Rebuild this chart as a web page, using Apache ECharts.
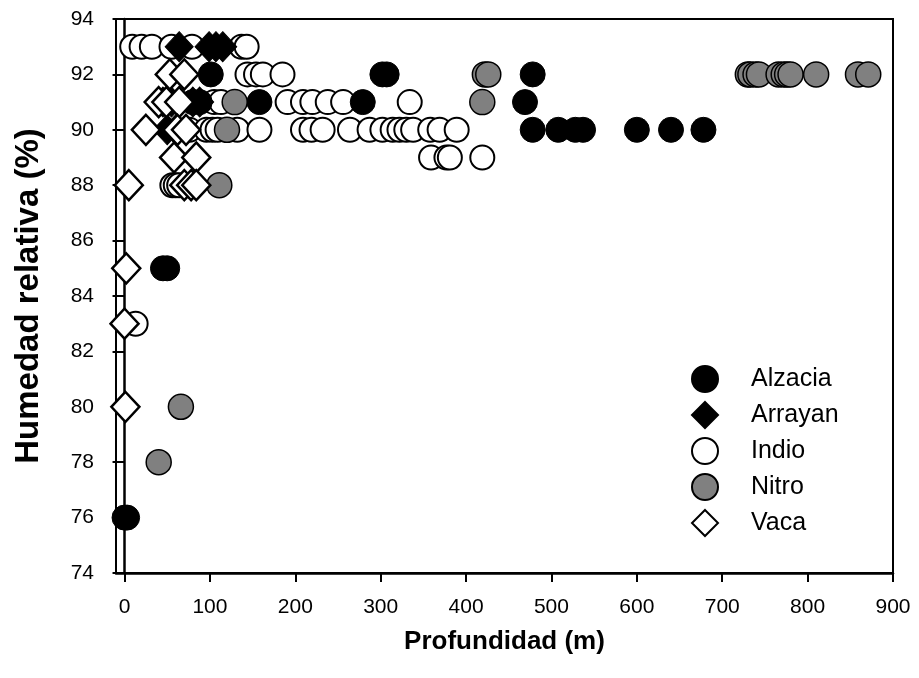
<!DOCTYPE html>
<html>
<head>
<meta charset="utf-8">
<script src="https://cdn.jsdelivr.net/npm/echarts@6/dist/echarts.min.js"></script>
<style>
  html, body { margin: 0; padding: 0; background: #fff; }
  #chart { width: 919px; height: 678px; }
</style>
</head>
<body>
<div id="chart"></div>
<script>
// [profundidad (m), humedad relativa (%)]
const alzacia = [
  [101, 92], [302, 92], [307, 92], [478, 92],
  [80, 91], [88, 91], [158, 91], [279, 91], [469, 91],
  [478, 90], [508, 90], [528, 90], [537, 90], [600, 90], [640, 90], [678, 90],
  [45, 85], [50, 85],
  [0, 76], [3, 76]
]
const arrayan = [
  [64, 93], [99, 93], [107, 93], [115, 93],
  [45, 91], [55, 91], [80, 91], [88, 91],
  [50, 90], [60, 90]
]
const indio = [
  [9, 93], [20, 93], [32, 93], [55, 93], [79, 93], [137, 93], [143, 93],
  [144, 92], [154, 92], [162, 92], [185, 92],
  [105, 91], [113, 91], [191, 91], [209, 91], [220, 91], [238, 91], [256, 91], [334, 91],
  [76, 90], [96, 90], [103, 90], [109, 90], [132, 90], [158, 90], [209, 90], [219, 90],
  [232, 90], [264, 90], [287, 90], [302, 90], [314, 90], [322, 90], [330, 90], [338, 90],
  [358, 90], [369, 90], [389, 90],
  [359, 89], [377, 89], [381, 89], [419, 89],
  [56, 88], [60, 88], [64, 88],
  [13, 83]
]
const nitro = [
  [422, 92], [426, 92], [730, 92], [733, 92], [739, 92], [743, 92], [766, 92], [772, 92],
  [776, 92], [780, 92], [810, 92], [859, 92], [871, 92],
  [129, 91], [419, 91],
  [120, 90],
  [111, 88],
  [66, 80],
  [40, 78]
]
const vaca = [
  [53, 92], [70, 92],
  [40, 91], [49, 91], [64, 91],
  [25, 90], [62, 90], [72, 90],
  [58, 89], [84, 89],
  [5, 88], [70, 88], [78, 88], [84, 88],
  [2, 85],
  [0, 83],
  [1, 80]
]
const xTicks = [0, 100, 200, 300, 400, 500, 600, 700, 800, 900]
const names = ['Alzacia', 'Arrayan', 'Indio', 'Nitro', 'Vaca']

const font = 'Liberation Sans, Arial, sans-serif'
const chart = echarts.init(document.getElementById('chart'))

const option = {
  animation: false,
  grid: {
    left: 116, right: 26, top: 19, bottom: 105,
    show: true, borderColor: '#000', borderWidth: 2
  },
  legend: {
    data: names,
    orient: 'vertical',
    left: 686, top: 360,
    itemWidth: 26, itemHeight: 26,
    itemGap: 8,
    textStyle: { fontFamily: font, fontSize: 25, color: '#000', padding: [0, 0, 0, 28] }
  },
  xAxis: {
    type: 'value',
    min: -10, max: 900,
    name: 'Profundidad (m)',
    nameLocation: 'middle',
    nameGap: 56,
    nameTextStyle: { fontFamily: font, fontSize: 26, fontWeight: 'bold', color: '#000' },
    axisLine: { lineStyle: { color: '#000', width: 2.5 } },
    axisTick: { show: true, length: 9, lineStyle: { color: '#000', width: 2 }, customValues: xTicks },
    axisLabel: { fontFamily: font, fontSize: 21, color: '#000', margin: 24, customValues: xTicks },
    splitLine: { show: false }
  },
  yAxis: {
    type: 'value',
    min: 74, max: 94, interval: 2,
    name: 'Humedad relativa (%)',
    nameLocation: 'middle',
    nameGap: 71,
    nameTextStyle: { fontFamily: font, fontSize: 33, fontWeight: 'bold', color: '#000' },
    axisLine: { lineStyle: { color: '#000', width: 2.5 } },
    axisTick: { show: true, length: 12, lineStyle: { color: '#000', width: 2 } },
    axisLabel: { fontFamily: font, fontSize: 21, color: '#000', margin: 22 },
    splitLine: { show: false }
  },
  series: [
    {
      name: 'Alzacia', type: 'scatter', data: alzacia, z: 3,
      symbol: 'circle', symbolSize: 25,
      itemStyle: { color: '#000', borderColor: '#000', borderWidth: 1, opacity: 1 }
    },
    {
      name: 'Arrayan', type: 'scatter', data: arrayan, z: 5,
      symbol: 'diamond', symbolSize: [28, 30],
      itemStyle: { color: '#000', borderColor: '#000', borderWidth: 1, opacity: 1 }
    },
    {
      name: 'Indio', type: 'scatter', data: indio, z: 2,
      symbol: 'circle', symbolSize: 24,
      itemStyle: { color: '#fff', borderColor: '#000', borderWidth: 2, opacity: 1 }
    },
    {
      name: 'Nitro', type: 'scatter', data: nitro, z: 4,
      symbol: 'circle', symbolSize: 25,
      itemStyle: { color: '#808080', borderColor: '#000', borderWidth: 1.5, opacity: 1 }
    },
    {
      name: 'Vaca', type: 'scatter', data: vaca, z: 6,
      symbol: 'diamond', symbolSize: [28, 30],
      itemStyle: { color: '#fff', borderColor: '#000', borderWidth: 2.5, opacity: 1 }
    }
  ]
}

chart.setOption(option)
</script>
</body>
</html>
